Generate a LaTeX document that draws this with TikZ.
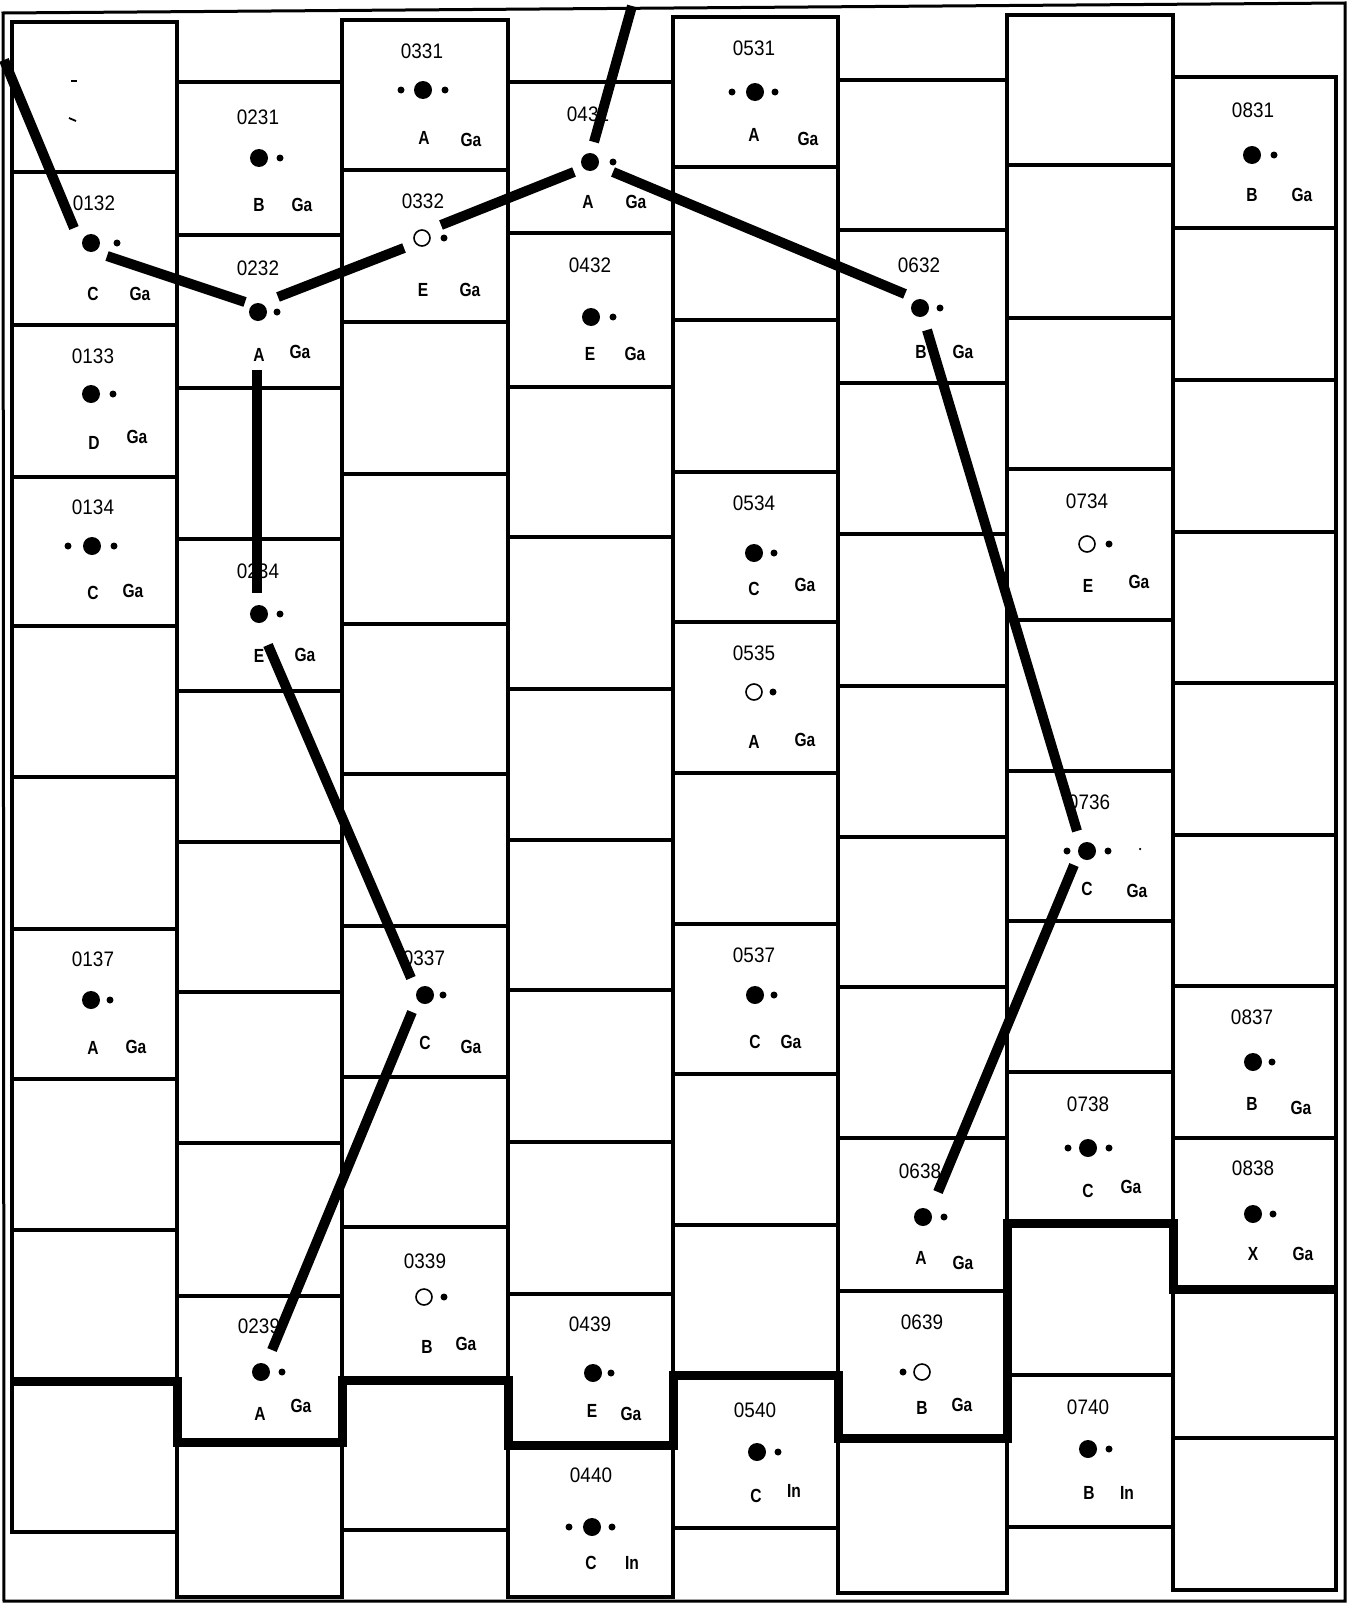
\documentclass[tikz,border=0pt]{standalone}
\usepackage{fontspec}
\newfontfamily\labfont{Liberation Sans}[FakeStretch=0.9]
\newfontfamily\elfont{Liberation Sans}[FakeStretch=0.82]
\usetikzlibrary{calc}
\tikzset{
  frameline/.style={line width=3pt},
  cellbox/.style={draw, line width=3.4pt},
  stair/.style={line width=9pt, line join=miter},
  bond/.style={line width=10pt, line cap=butt},
  bigdot/.style={circle, fill, inner sep=0pt, minimum size=18pt},
  opendot/.style={circle, draw, line width=1.6pt, fill=white, inner sep=0pt, minimum size=16pt},
  smalldot/.style={circle, fill, inner sep=0pt, minimum size=7pt},
  speck/.style={circle, fill, inner sep=0pt, minimum size=2.5pt},
  lab/.style={inner sep=0pt, font=\labfont\fontsize{21}{21}\selectfont},
  elt/.style={inner sep=0pt, font=\elfont\bfseries\fontsize{19}{19}\selectfont},
}
\newcommand\cellc[8]{%
  \node[lab] (n#1) at (#2) {#1};%
  \node[#4] (d#1) at (#3) {};%
  \node[elt] (s#1) at (#6) {#5};%
  \node[elt] (e#1) at (#8) {#7};%
}
\newcommand\smdot[2]{\node[smalldot] (#1) at (#2) {};}
\begin{document}
\begin{tikzpicture}[x=1pt,y=-1pt]
\useasboundingbox (0,0) rectangle (1352,1603);
% outer frame
\draw[frameline] (3,13) -- (1345,3) -- (1345,1601) -- (4,1601) -- cycle;
% columns
\draw[cellbox] (12,22) rectangle (177,1532);
\foreach \y in {172,325,477,626,777,929,1079,1230} \draw[cellbox] (12,\y) -- (177,\y);
\draw[cellbox] (177,82) rectangle (342,1597);
\foreach \y in {235,388,539,691,842,992,1143,1296} \draw[cellbox] (177,\y) -- (342,\y);
\draw[cellbox] (342,20) rectangle (508,1530);
\foreach \y in {170,322,474,624,774,926,1077,1227} \draw[cellbox] (342,\y) -- (508,\y);
\draw[cellbox] (508,82) rectangle (673,1597);
\foreach \y in {233,387,537,689,840,990,1142,1294} \draw[cellbox] (508,\y) -- (673,\y);
\draw[cellbox] (673,17) rectangle (838,1528);
\foreach \y in {167,320,472,622,773,924,1074,1225} \draw[cellbox] (673,\y) -- (838,\y);
\draw[cellbox] (838,80) rectangle (1007,1593);
\foreach \y in {230,383,534,686,837,987,1138,1291} \draw[cellbox] (838,\y) -- (1007,\y);
\draw[cellbox] (1007,15) rectangle (1173,1527);
\foreach \y in {165,318,469,620,771,921,1072,1375} \draw[cellbox] (1007,\y) -- (1173,\y);
\draw[cellbox] (1173,77) rectangle (1336,1590);
\foreach \y in {228,380,532,683,835,986,1138,1438} \draw[cellbox] (1173,\y) -- (1336,\y);
% staircase boundary
\draw[stair] (12,1381) -| (177,1442) -| (342,1380) -| (508,1445) -| (673,1375)
  -| (838,1438) -| (1007,1223) -| (1173,1289) -- (1336,1289);
% specks in 0131
\draw[line width=1.8pt] (71,81) -- (77,81);
\draw[line width=1.8pt] (69,118) -- (76,121);
% cells
\cellc{0132}{94,203}{91,243}{bigdot}{C}{93,294}{Ga}{140,294}
\smdot{r0132}{117,243}
\cellc{0133}{93,356}{91,394}{bigdot}{D}{94,443}{Ga}{137,437}
\smdot{r0133}{113,394}
\cellc{0134}{93,507}{92,546}{bigdot}{C}{93,593}{Ga}{133,591}
\smdot{l0134}{68,546}\smdot{r0134}{114,546}
\cellc{0137}{93,959}{91,1000}{bigdot}{A}{93,1048}{Ga}{136,1047}
\smdot{r0137}{110,1000}
\cellc{0231}{258,117}{259,158}{bigdot}{B}{259,205}{Ga}{302,205}
\smdot{r0231}{280,158}
\cellc{0232}{258,268}{258,312}{bigdot}{A}{259,355}{Ga}{300,352}
\smdot{r0232}{277,312}
\cellc{0234}{258,571}{259,614}{bigdot}{E}{259,656}{Ga}{305,655}
\smdot{r0234}{280,614}
\cellc{0239}{259,1326}{261,1372}{bigdot}{A}{260,1414}{Ga}{301,1406}
\smdot{r0239}{282,1372}
\cellc{0331}{422,51}{423,90}{bigdot}{A}{424,138}{Ga}{471,140}
\smdot{l0331}{401,90}\smdot{r0331}{445,90}
\cellc{0332}{423,201}{422,238}{opendot}{E}{423,290}{Ga}{470,290}
\smdot{r0332}{444,238}
\cellc{0337}{424,958}{425,995}{bigdot}{C}{425,1043}{Ga}{471,1047}
\smdot{r0337}{443,995}
\cellc{0339}{425,1261}{424,1297}{opendot}{B}{427,1347}{Ga}{466,1344}
\smdot{r0339}{444,1297}
\cellc{0431}{588,114}{590,162}{bigdot}{A}{588,202}{Ga}{636,202}
\smdot{r0431}{613,162}
\cellc{0432}{590,265}{591,317}{bigdot}{E}{590,354}{Ga}{635,354}
\smdot{r0432}{613,317}
\cellc{0439}{590,1324}{593,1373}{bigdot}{E}{592,1411}{Ga}{631,1414}
\smdot{r0439}{611,1373}
\cellc{0440}{591,1475}{592,1527}{bigdot}{C}{591,1563}{In}{632,1563}
\smdot{l0440}{569,1527}\smdot{r0440}{612,1527}
\cellc{0531}{754,48}{755,92}{bigdot}{A}{754,135}{Ga}{808,139}
\smdot{l0531}{732,92}\smdot{r0531}{775,92}
\cellc{0534}{754,503}{754,553}{bigdot}{C}{754,589}{Ga}{805,585}
\smdot{r0534}{774,553}
\cellc{0535}{754,653}{754,692}{opendot}{A}{754,742}{Ga}{805,740}
\smdot{r0535}{773,692}
\cellc{0537}{754,955}{755,995}{bigdot}{C}{755,1042}{Ga}{791,1042}
\smdot{r0537}{774,995}
\cellc{0540}{755,1410}{757,1452}{bigdot}{C}{756,1496}{In}{794,1491}
\smdot{r0540}{778,1452}
\cellc{0632}{919,265}{920,308}{bigdot}{B}{921,352}{Ga}{963,352}
\smdot{r0632}{940,308}
\cellc{0638}{920,1171}{923,1217}{bigdot}{A}{921,1258}{Ga}{963,1263}
\smdot{r0638}{944,1217}
\cellc{0639}{922,1322}{922,1372}{opendot}{B}{922,1408}{Ga}{962,1405}
\smdot{l0639}{903,1372}
\cellc{0734}{1087,501}{1087,544}{opendot}{E}{1088,586}{Ga}{1139,582}
\smdot{r0734}{1109,544}
\cellc{0736}{1089,802}{1087,851}{bigdot}{C}{1087,889}{Ga}{1137,891}
\smdot{l0736}{1067,851}\smdot{r0736}{1108,851}
\node[speck] (x0736) at (1140,849) {};
\cellc{0738}{1088,1104}{1088,1148}{bigdot}{C}{1088,1191}{Ga}{1131,1187}
\smdot{l0738}{1068,1148}\smdot{r0738}{1109,1148}
\cellc{0740}{1088,1407}{1088,1449}{bigdot}{B}{1089,1493}{In}{1127,1493}
\smdot{r0740}{1109,1449}
\cellc{0831}{1253,110}{1252,155}{bigdot}{B}{1252,195}{Ga}{1302,195}
\smdot{r0831}{1274,155}
\cellc{0837}{1252,1017}{1253,1062}{bigdot}{B}{1252,1104}{Ga}{1301,1108}
\smdot{r0837}{1272,1062}
\cellc{0838}{1253,1168}{1253,1214}{bigdot}{X}{1253,1254}{Ga}{1303,1254}
\smdot{r0838}{1273,1214}
% free ends
\coordinate (tl) at (4,60);
\coordinate (tt) at (632,6);
% bonds
\draw[bond] (tl) -- ($(d0132)+(-17,-15)$);
\draw[bond] ($(d0132)+(16,13)$) -- ($(d0232)+(-13,-10)$);
\draw[bond] ($(d0232)+(20,-15)$) -- ($(d0332)+(-18,10)$);
\draw[bond] ($(d0332)+(19,-13)$) -- ($(d0431)+(-16,10)$);
\draw[bond] ($(d0431)+(4,-20)$) -- (tt);
\draw[bond] ($(d0431)+(23,10)$) -- ($(d0632)+(-15,-14)$);
\draw[bond] ($(d0632)+(7,22)$) -- ($(d0736)+(-10,-20)$);
\draw[bond] ($(d0232)+(-1,58)$) -- ($(d0234)+(-2,-21)$);
\draw[bond] ($(d0234)+(9,31)$) -- ($(d0337)+(-14,-17)$);
\draw[bond] ($(d0337)+(-13,17)$) -- ($(d0239)+(11,-22)$);
\draw[bond] ($(d0736)+(-13,14)$) -- ($(d0638)+(15,-25)$);
\end{tikzpicture}
\end{document}
